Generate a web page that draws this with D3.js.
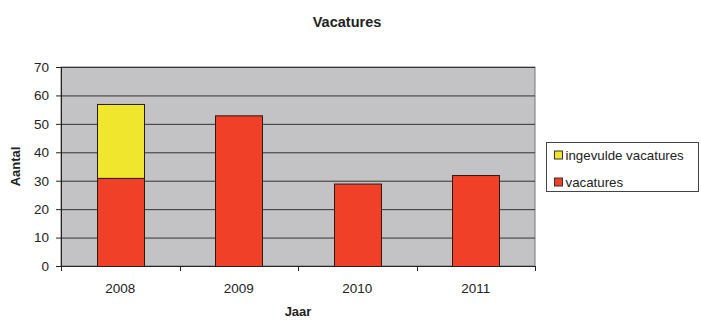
<!DOCTYPE html>
<html>
<head>
<meta charset="utf-8">
<script src="https://cdn.jsdelivr.net/npm/d3@7"></script>
<style>
    body { margin: 0; background: #fff; }
    text { font-family: Arial, "Liberation Sans", sans-serif; fill: #222; }
</style>
</head>
<body>
<div id="chart"></div>
<script>
// data
var years = ["2008", "2009", "2010", "2011"];
var vacatures = [31, 53, 29, 32];
var ingevuld = [26, 0, 0, 0];   // stacked on top of vacatures
var yTicks = [0, 10, 20, 30, 40, 50, 60, 70];
var seriesNames = ["ingevulde vacatures", "vacatures"];
var seriesColors = ["#f0e62e", "#f04128"];

var svg = d3.select("#chart")
    .append("svg")
    .attr("width", 701)
    .attr("height", 320);

var margin = {top: 67, right: 166, bottom: 54, left: 61},
    width = 701 - margin.left - margin.right,
    height = 320 - margin.top - margin.bottom,
    g = svg.append("g").attr("transform", "translate(" + margin.left + "," + margin.top + ")");

var x = d3.scaleBand()
    .domain(years)
    .range([0, width])
    .paddingInner(0.6)
    .paddingOuter(0.3);

var y = d3.scaleLinear()
    .domain([0, 70])
    .range([height, 0]);

// plot area background
g.append("rect")
    .attr("width", width)
    .attr("height", height)
    .attr("fill", "#c3c3c5")
    .attr("stroke", "#777")
    .attr("stroke-width", 1);

// gridlines
g.selectAll(".grid")
    .data(yTicks.filter(function (d) { return d > 0; }))
    .enter().append("line")
    .attr("class", "grid")
    .attr("x1", 0)
    .attr("x2", width)
    .attr("y1", function (d) { return y(d) + 0.5; })
    .attr("y2", function (d) { return y(d) + 0.5; })
    .attr("stroke", "#333")
    .attr("stroke-width", 1);

// stacked bars
var stackData = years.map(function (yr, i) {
    return {year: yr, v: vacatures[i], f: ingevuld[i]};
});

g.selectAll(".bar-v")
    .data(stackData)
    .enter().append("rect")
    .attr("class", "bar-v")
    .attr("x", function (d) { return Math.round(x(d.year)) + 0.5; })
    .attr("y", function (d) { return y(d.v) + 0.5; })
    .attr("width", Math.round(x.bandwidth()))
    .attr("height", function (d) { return y(0) - y(d.v); })
    .attr("fill", seriesColors[1])
    .attr("stroke", "#2a1a10");

g.selectAll(".bar-f")
    .data(stackData.filter(function (d) { return d.f > 0; }))
    .enter().append("rect")
    .attr("class", "bar-f")
    .attr("x", function (d) { return Math.round(x(d.year)) + 0.5; })
    .attr("y", function (d) { return y(d.v + d.f) + 0.5; })
    .attr("width", Math.round(x.bandwidth()))
    .attr("height", function (d) { return y(d.v) - y(d.v + d.f); })
    .attr("fill", seriesColors[0])
    .attr("stroke", "#2a1a10");

// Y axis
var yAxis = g.append("g")
    .call(d3.axisLeft(y).tickValues(yTicks).tickSize(5).tickSizeOuter(0));
yAxis.select(".domain").attr("stroke", "#222");
yAxis.selectAll(".tick line").attr("stroke", "#222");
yAxis.selectAll(".tick text").attr("font-size", 13.5).attr("x", -12).attr("fill", "#222");

// X axis, ticks between the categories
var xAxis = g.append("g")
    .attr("transform", "translate(0," + height + ")");
xAxis.append("line")
    .attr("x1", 0).attr("x2", width)
    .attr("y1", 0.5).attr("y2", 0.5)
    .attr("stroke", "#222");
var step = width / years.length;
xAxis.selectAll(".xtick")
    .data(d3.range(years.length + 1))
    .enter().append("line")
    .attr("x1", function (d) { return Math.round(d * step) + 0.5; })
    .attr("x2", function (d) { return Math.round(d * step) + 0.5; })
    .attr("y1", 0).attr("y2", 5)
    .attr("stroke", "#222");
xAxis.selectAll(".xlabel")
    .data(years)
    .enter().append("text")
    .attr("x", function (d) { return x(d) + x.bandwidth() / 2; })
    .attr("y", 27)
    .attr("text-anchor", "middle")
    .attr("font-size", 13.5)
    .text(function (d) { return d; });

// titles
svg.append("text")
    .attr("x", 347)
    .attr("y", 27)
    .attr("text-anchor", "middle")
    .attr("font-size", 14.5)
    .attr("font-weight", "bold")
    .text("Vacatures");

svg.append("text")
    .attr("x", margin.left + width / 2)
    .attr("y", 316)
    .attr("text-anchor", "middle")
    .attr("font-size", 13)
    .attr("font-weight", "bold")
    .text("Jaar");

svg.append("text")
    .attr("transform", "translate(20," + (margin.top + height / 2) + ") rotate(-90)")
    .attr("text-anchor", "middle")
    .attr("font-size", 13)
    .attr("font-weight", "bold")
    .text("Aantal");

// legend
var legend = svg.append("g").attr("transform", "translate(546.5,142.5)");
legend.append("rect")
    .attr("width", 152)
    .attr("height", 49)
    .attr("fill", "#fff")
    .attr("stroke", "#444");
var items = legend.selectAll(".item")
    .data(seriesNames)
    .enter().append("g")
    .attr("transform", function (d, i) { return "translate(0," + (12.5 + i * 27) + ")"; });
items.append("rect")
    .attr("x", 8).attr("y", -4)
    .attr("width", 8).attr("height", 8)
    .attr("fill", function (d, i) { return seriesColors[i]; })
    .attr("stroke", "#333");
items.append("text")
    .attr("x", 19)
    .attr("y", 5)
    .attr("font-size", 13.3)
    .text(function (d) { return d; });
</script>
</body>
</html>
